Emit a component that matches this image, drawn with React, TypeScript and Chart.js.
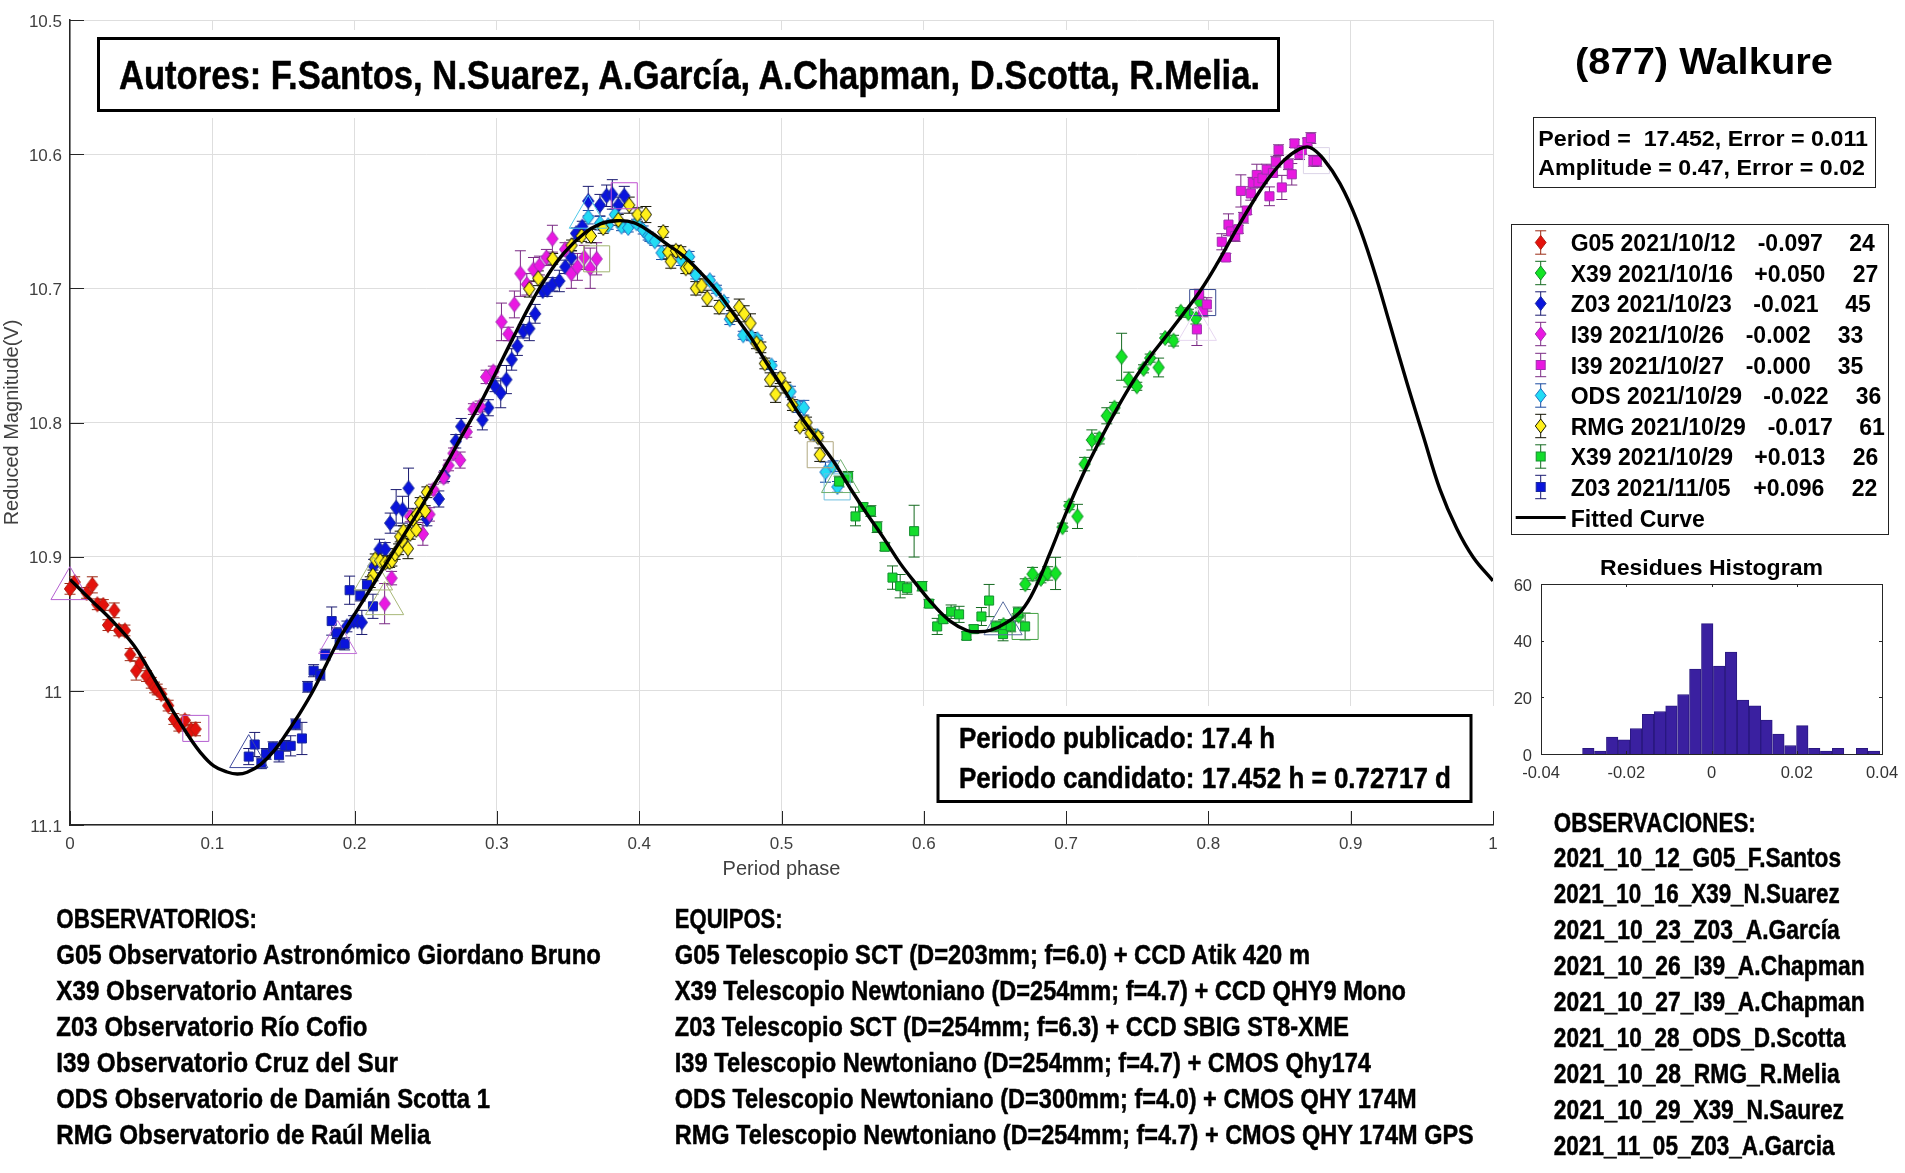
import React, { useEffect, useRef } from 'react';
import { Chart, registerables } from 'chart.js';

Chart.register(...registerables);

// [phase, reduced magnitude, half error bar]
const g05Oct12 = [
  [0, 10.924, 0.004], [0.0033, 10.919, 0.004], [0.0117, 10.927, 0.004], [0.0157, 10.921, 0.006],
  [0.0192, 10.9355, 0.004], [0.0234, 10.936, 0.004], [0.0267, 10.951, 0.004], [0.0311, 10.94, 0.0055],
  [0.0344, 10.955, 0.004], [0.0386, 10.955, 0.004], [0.0423, 10.973, 0.0045], [0.0465, 10.985, 0.007],
  [0.0496, 10.979, 0.004], [0.0538, 10.989, 0.004], [0.0571, 10.994, 0.004], [0.0594, 10.9975, 0.004],
  [0.0613, 10.999, 0.004], [0.0641, 11.0025, 0.004], [0.069, 11.011, 0.004], [0.073, 11.021, 0.004],
  [0.0765, 11.026, 0.004], [0.0807, 11.022, 0.004], [0.0851, 11.029, 0.004], [0.0882, 11.0285, 0.005],
];
const x39Oct16 = [
  [0.656, 10.951, 0.004], [0.6666, 10.944, 0.004], [0.6713, 10.9205, 0.004], [0.6764, 10.913, 0.005],
  [0.6823, 10.9165, 0.003], [0.687, 10.9125, 0.005], [0.6926, 10.9125, 0.012], [0.6975, 10.878, 0.003],
  [0.7022, 10.862, 0.003], [0.708, 10.87, 0.009], [0.713, 10.831, 0.005], [0.7181, 10.813, 0.0075],
  [0.7233, 10.812, 0.004], [0.7286, 10.795, 0.006], [0.734, 10.789, 0.004], [0.739, 10.751, 0.0175],
  [0.744, 10.768, 0.0055], [0.7497, 10.773, 0.003], [0.7544, 10.76, 0.003], [0.7591, 10.752, 0.003],
  [0.765, 10.759, 0.007], [0.7696, 10.737, 0.003], [0.7755, 10.739, 0.004], [0.7806, 10.7175, 0.003],
  [0.786, 10.7186, 0.003], [0.7912, 10.7226, 0.004], [0.7942, 10.7106, 0.004],
];
const z03Oct23 = [
  [0.1946, 10.952, 0.004], [0.1993, 10.948, 0.004], [0.2021, 10.948, 0.004], [0.2051, 10.949, 0.009],
  [0.2133, 10.907, 0.005], [0.2175, 10.8945, 0.0075], [0.2215, 10.8945, 0.005], [0.225, 10.875, 0.0075],
  [0.2292, 10.8635, 0.0135], [0.2337, 10.865, 0.01], [0.2379, 10.849, 0.015], [0.2508, 10.872, 0.005],
  [0.2592, 10.857, 0.006], [0.2632, 10.84, 0.004], [0.2711, 10.814, 0.005], [0.2749, 10.803, 0.006],
  [0.2898, 10.798, 0.0075], [0.294, 10.789, 0.006], [0.2987, 10.773, 0.004], [0.3027, 10.778, 0.011],
  [0.3067, 10.768, 0.0105], [0.3104, 10.753, 0.008], [0.3144, 10.743, 0.007], [0.3186, 10.732, 0.005],
  [0.3228, 10.73, 0.009], [0.3269, 10.719, 0.007], [0.3322, 10.702, 0.004], [0.3354, 10.701, 0.005],
  [0.3392, 10.697, 0.005], [0.3439, 10.6945, 0.008], [0.3481, 10.684, 0.005], [0.3523, 10.677, 0.005],
  [0.3556, 10.659, 0.004], [0.36, 10.654, 0.004], [0.3642, 10.635, 0.011], [0.3724, 10.638, 0.008],
  [0.3771, 10.631, 0.008], [0.3811, 10.63, 0.011], [0.3853, 10.638, 0.006], [0.3895, 10.631, 0.007],
];
const i39Oct26 = [
  [0.2211, 10.935, 0.015], [0.226, 10.916, 0.005], [0.2391, 10.87, 0.004], [0.248, 10.883, 0.0085],
  [0.2526, 10.8685, 0.005], [0.2554, 10.85, 0.004], [0.2625, 10.841, 0.004], [0.266, 10.832, 0.004],
  [0.2695, 10.823, 0.004], [0.2742, 10.828, 0.006], [0.2788, 10.807, 0.004], [0.2835, 10.79, 0.004],
  [0.2882, 10.788, 0.004], [0.2924, 10.766, 0.005], [0.2975, 10.762, 0.004], [0.3032, 10.725, 0.014],
  [0.3081, 10.734, 0.005], [0.3123, 10.712, 0.01], [0.3165, 10.689, 0.017], [0.321, 10.697, 0.008],
  [0.3257, 10.686, 0.009], [0.3299, 10.683, 0.007], [0.3348, 10.677, 0.006], [0.339, 10.663, 0.01],
  [0.3479, 10.671, 0.005], [0.3523, 10.689, 0.011], [0.3566, 10.684, 0.01], [0.3614, 10.677, 0.009],
  [0.3656, 10.685, 0.015], [0.3701, 10.678, 0.012],
];
const i39Oct27 = [
  [0.7919, 10.7306, 0.012], [0.7935, 10.7047, 0.004], [0.7961, 10.7172, 0.004], [0.7989, 10.712, 0.005],
  [0.8094, 10.6653, 0.006], [0.8123, 10.677, 0.003], [0.8141, 10.6525, 0.008], [0.816, 10.6576, 0.003],
  [0.8188, 10.661, 0.004], [0.8211, 10.656, 0.003], [0.8228, 10.6274, 0.012], [0.8247, 10.6474, 0.004],
  [0.827, 10.642, 0.003], [0.8298, 10.6293, 0.005], [0.8312, 10.6213, 0.004], [0.834, 10.6155, 0.008],
  [0.8352, 10.6208, 0.004], [0.838, 10.618, 0.004], [0.841, 10.6115, 0.004], [0.8429, 10.6314, 0.007],
  [0.8453, 10.614, 0.003], [0.8474, 10.6056, 0.004], [0.8493, 10.597, 0.004], [0.8516, 10.6248, 0.009],
  [0.8563, 10.6075, 0.004], [0.8586, 10.615, 0.008], [0.8605, 10.592, 0.003], [0.864, 10.6, 0.004],
  [0.8656, 10.597, 0.003], [0.8696, 10.591, 0.003], [0.872, 10.588, 0.004], [0.8738, 10.605, 0.004],
  [0.8762, 10.605, 0.004],
];
const odsOct29 = [
  [0.3642, 10.647, 0.005], [0.3724, 10.6515, 0.005], [0.3782, 10.653, 0.003], [0.3829, 10.645, 0.004],
  [0.3876, 10.654, 0.003], [0.3923, 10.655, 0.003], [0.3981, 10.6515, 0.003], [0.4028, 10.6565, 0.003],
  [0.4063, 10.661, 0.003], [0.4075, 10.662, 0.003], [0.411, 10.665, 0.003], [0.4157, 10.6735, 0.005],
  [0.4297, 10.679, 0.004], [0.4351, 10.6765, 0.004], [0.4398, 10.69, 0.003], [0.4496, 10.694, 0.003],
  [0.4543, 10.7007, 0.003], [0.4595, 10.71, 0.003], [0.4637, 10.723, 0.004], [0.4731, 10.735, 0.003],
  [0.4789, 10.736, 0.003], [0.4831, 10.738, 0.003], [0.493, 10.7575, 0.003], [0.5063, 10.777, 0.004],
  [0.5117, 10.7885, 0.004], [0.5157, 10.789, 0.0055], [0.5251, 10.81, 0.003], [0.5309, 10.837, 0.0075],
  [0.5363, 10.8326, 0.004], [0.5393, 10.848, 0.004],
];
const rmgOct29 = [
  [0.2129, 10.914, 0.004], [0.211, 10.919, 0.004], [0.2145, 10.902, 0.004], [0.218, 10.903, 0.004],
  [0.2215, 10.9045, 0.004], [0.2246, 10.904, 0.004], [0.2262, 10.903, 0.004], [0.2285, 10.898, 0.004],
  [0.2309, 10.8945, 0.004], [0.2332, 10.888, 0.004], [0.232, 10.885, 0.004], [0.2344, 10.881, 0.004],
  [0.2391, 10.883, 0.004], [0.2433, 10.88, 0.004], [0.2375, 10.894, 0.0075], [0.241, 10.872, 0.004],
  [0.2438, 10.8685, 0.004], [0.2461, 10.86, 0.004], [0.2496, 10.866, 0.004], [0.2508, 10.852, 0.004],
  [0.3228, 10.7005, 0.006], [0.3291, 10.6925, 0.0055], [0.3392, 10.678, 0.004], [0.3525, 10.668, 0.004],
  [0.3595, 10.661, 0.004], [0.3661, 10.661, 0.005], [0.3747, 10.655, 0.004], [0.3853, 10.649, 0.004],
  [0.393, 10.638, 0.006], [0.3988, 10.645, 0.005], [0.4047, 10.645, 0.006], [0.4169, 10.658, 0.004],
  [0.4204, 10.673, 0.005], [0.4222, 10.68, 0.005], [0.4258, 10.672, 0.004], [0.4293, 10.673, 0.004],
  [0.4328, 10.685, 0.004], [0.4351, 10.684, 0.004], [0.4398, 10.7, 0.005], [0.4438, 10.698, 0.005],
  [0.4478, 10.7074, 0.006], [0.4562, 10.714, 0.005], [0.4649, 10.7206, 0.004], [0.4703, 10.714, 0.006],
  [0.4738, 10.719, 0.006], [0.4782, 10.726, 0.007], [0.4824, 10.741, 0.004], [0.4855, 10.744, 0.004],
  [0.4883, 10.756, 0.004], [0.492, 10.768, 0.005], [0.4958, 10.779, 0.006], [0.4991, 10.767, 0.004],
  [0.503, 10.774, 0.004], [0.5077, 10.787, 0.004], [0.5129, 10.803, 0.003], [0.5176, 10.8, 0.004],
  [0.5204, 10.808, 0.003], [0.5258, 10.811, 0.003], [0.5269, 10.824, 0.005],
];
const x39Oct29 = [
  [0.5405, 10.844, 0.004], [0.5468, 10.8405, 0.004], [0.552, 10.87, 0.007], [0.5574, 10.863, 0.003],
  [0.5628, 10.866, 0.004], [0.5672, 10.878, 0.004], [0.5726, 10.8926, 0.003], [0.578, 10.9156, 0.0087],
  [0.5834, 10.922, 0.0087], [0.5883, 10.9235, 0.0045], [0.5932, 10.881, 0.0193], [0.5988, 10.922, 0.0035],
  [0.6037, 10.935, 0.003], [0.6094, 10.952, 0.006], [0.6136, 10.9466, 0.003], [0.6192, 10.941, 0.005],
  [0.6248, 10.943, 0.006], [0.63, 10.959, 0.003], [0.6351, 10.954, 0.003], [0.6405, 10.9446, 0.0067],
  [0.6459, 10.9327, 0.012], [0.6506, 10.952, 0.004], [0.6557, 10.9577, 0.005], [0.6611, 10.952, 0.004],
  [0.6663, 10.9416, 0.004], [0.6712, 10.952, 0.01],
];
const z03Nov05 = [
  [0.1256, 11.049, 0.006], [0.1298, 11.04, 0.009], [0.1345, 11.054, 0.004], [0.1378, 11.047, 0.004],
  [0.1427, 11.042, 0.004], [0.1469, 11.048, 0.005], [0.1509, 11.041, 0.004], [0.1551, 11.041, 0.0075],
  [0.1586, 11.025, 0.004], [0.163, 11.0355, 0.012], [0.167, 10.997, 0.004], [0.1712, 10.985, 0.0045],
  [0.1759, 10.988, 0.004], [0.1794, 10.973, 0.004], [0.1839, 10.948, 0.0105], [0.1876, 10.957, 0.004],
  [0.1895, 10.965, 0.004], [0.193, 10.965, 0.0045], [0.1965, 10.925, 0.0105], [0.204, 10.929, 0.004],
  [0.2087, 10.921, 0.004], [0.2129, 10.937, 0.009],
];

const curvePhase = [
  0, 0.0144, 0.0308, 0.0448, 0.0542, 0.0636, 0.0729, 0.0823, 0.0917, 0.101, 0.1104, 0.1175, 0.1245, 0.1338,
  0.1432, 0.1526, 0.1619, 0.1713, 0.1807, 0.19, 0.1994, 0.2088, 0.2181, 0.2275, 0.2369, 0.2462, 0.2556, 0.265,
  0.2743, 0.2907, 0.3001, 0.3118, 0.3235, 0.3328, 0.3469, 0.3609, 0.3727, 0.3844, 0.3961, 0.4078, 0.4195, 0.4312,
  0.4429, 0.4546, 0.4663, 0.478, 0.4898, 0.5014, 0.5132, 0.5249, 0.5366, 0.5483, 0.56, 0.5717, 0.5834, 0.5951,
  0.6068, 0.6185, 0.6303, 0.6373, 0.6466, 0.6584, 0.6688, 0.6771, 0.6888, 0.7005, 0.7122, 0.7239, 0.7356, 0.7473,
  0.759, 0.7708, 0.7824, 0.7942, 0.8059, 0.8176, 0.8293, 0.841, 0.8527, 0.8644, 0.8715, 0.8808, 0.8925, 0.9042,
  0.9159, 0.9276, 0.9394, 0.951, 0.9628, 0.9745, 0.9862, 1,
];
const curveMag = [
  10.917, 10.932, 10.949, 10.966, 10.982, 10.999, 11.016, 11.032, 11.046, 11.056, 11.0605, 11.062, 11.0607, 11.055,
  11.045, 11.031, 11.016, 10.999, 10.979, 10.96, 10.944, 10.928, 10.912, 10.896, 10.88, 10.864, 10.847, 10.83,
  10.812, 10.781, 10.761, 10.736, 10.712, 10.695, 10.674, 10.6595, 10.652, 10.6496, 10.651, 10.658, 10.667, 10.676,
  10.688, 10.702, 10.719, 10.736, 10.756, 10.775, 10.795, 10.812, 10.829, 10.849, 10.868, 10.886, 10.905, 10.921,
  10.936, 10.948, 10.955, 10.956, 10.955, 10.949, 10.94, 10.926, 10.897, 10.866, 10.838, 10.813, 10.79, 10.769,
  10.751, 10.735, 10.719, 10.702, 10.682, 10.66, 10.639, 10.62, 10.605, 10.596, 10.595, 10.6035, 10.622, 10.649,
  10.685, 10.727, 10.77, 10.81, 10.85, 10.879, 10.9006, 10.918,
];

// Large open marks at the start and end of each night
const startMarks = [
  [0, 10.9238], [0.1256, 11.049], [0.1881, 10.964], [0.2133, 10.9166], [0.2211, 10.935],
  [0.3642, 10.647], [0.5415, 10.844], [0.6557, 10.95], [0.7923, 10.7306],
];
const endMarks = [
  [0.0884, 11.028], [0.3701, 10.678], [0.3895, 10.631], [0.5272, 10.824],
  [0.5391, 10.848], [0.6712, 10.952], [0.796, 10.7106], [0.8759, 10.6048],
];
const startMarkColors = ['#b45fd0', '#3f4a9c', '#c070d8', '#a8b878', '#a8b878', '#50c8e8', '#70b070', '#5a6ea0', '#e6d6f0'];
const endMarkColors = ['#b45fd0', '#a0b470', '#c050d0', '#b0a880', '#70c0e0', '#40a040', '#384a90', '#dcd4e8'];

const yTicks = [10.5, 10.6, 10.7, 10.8, 10.9, 11, 11.1];
const xTickLabels = ['0', '0.1', '0.2', '0.3', '0.4', '0.5', '0.6', '0.7', '0.8', '0.9', '1'];

const histCenters = [
  -0.0289, -0.0261, -0.0233, -0.0205, -0.0177, -0.0149, -0.0121, -0.0094, -0.0066, -0.0038, -0.001, 0.0018, 0.0046,
  0.0074, 0.0102, 0.0129, 0.0157, 0.0185, 0.0213, 0.0241, 0.0269, 0.0297, 0.0325, 0.0353, 0.0381,
];
const histCounts = [2, 1, 6, 5, 9, 14, 15, 17, 21, 30, 46, 31, 36, 19, 17, 12, 7, 3, 10, 2, 1, 2, 0, 2, 1];

const seriesNames = [
  'G05 2021/10/12', 'X39 2021/10/16', 'Z03 2021/10/23', 'I39 2021/10/26', 'I39 2021/10/27',
  'ODS 2021/10/29', 'RMG 2021/10/29', 'X39 2021/10/29', 'Z03 2021/11/05',
];
const seriesOffsets = ['-0.097', '+0.050', '-0.021', '-0.002', '-0.000', '-0.022', '-0.017', '+0.013', '+0.096'];
const seriesCounts = ['24', '27', '45', '33', '35', '36', '61', '26', '22'];

const observatorios = [
  'G05 Observatorio Astronómico Giordano Bruno',
  'X39 Observatorio Antares',
  'Z03 Observatorio Río Cofio',
  'I39 Observatorio Cruz del Sur',
  'ODS Observatorio de Damián Scotta 1',
  'RMG Observatorio de Raúl Melia',
];
const equipos = [
  'G05 Telescopio SCT (D=203mm; f=6.0) + CCD Atik 420 m',
  'X39 Telescopio Newtoniano (D=254mm; f=4.7) + CCD QHY9 Mono',
  'Z03 Telescopio SCT (D=254mm; f=6.3) + CCD SBIG ST8-XME',
  'I39 Telescopio Newtoniano (D=254mm; f=4.7) + CMOS Qhy174',
  'ODS Telescopio Newtoniano (D=300mm; f=4.0) + CMOS QHY 174M',
  'RMG Telescopio Newtoniano (D=254mm; f=4.7) + CMOS QHY 174M GPS',
];
const observaciones = [
  '2021_10_12_G05_F.Santos',
  '2021_10_16_X39_N.Suarez',
  '2021_10_23_Z03_A.García',
  '2021_10_26_I39_A.Chapman',
  '2021_10_27_I39_A.Chapman',
  '2021_10_28_ODS_D.Scotta',
  '2021_10_28_RMG_R.Melia',
  '2021_10_29_X39_N.Saurez',
  '2021_11_05_Z03_A.Garcia',
];

// layout / style tables, same order as the lists above
const seriesData = [g05Oct12, x39Oct16, z03Oct23, i39Oct26, i39Oct27, odsOct29, rmgOct29, x39Oct29, z03Nov05];
const seriesStyle = [
  { shape: 'diamond', fill: '#e4120c', edge: '#b01c10', bar: '#9a2a14' },
  { shape: 'diamond', fill: '#12e424', edge: '#128a28', bar: '#156a20' },
  { shape: 'diamond', fill: '#0a14dc', edge: '#1a2a9c', bar: '#1a1a70' },
  { shape: 'diamond', fill: '#ea18e2', edge: '#a030b0', bar: '#7a2a84' },
  { shape: 'square', fill: '#e818e0', edge: '#a030b0', bar: '#7a2a84' },
  { shape: 'diamond', fill: '#22dcf4', edge: '#1e70c4', bar: '#1a4aa0' },
  { shape: 'diamond', fill: '#fff01a', edge: '#1a1a00', bar: '#101000' },
  { shape: 'square', fill: '#14dc2c', edge: '#149030', bar: '#156a20' },
  { shape: 'square', fill: '#0a14dc', edge: '#1a2a9c', bar: '#1a1a70' },
];
const legendRowY = [242.5, 273, 303.5, 334, 365, 395.5, 426, 456.5, 487];
const legendOffsetX = [1757.7, 1754.3, 1753.3, 1745.7, 1745.7, 1763.3, 1767.7, 1754.3, 1753.3];
const legendCountX = [1849.3, 1852.7, 1845.3, 1837.7, 1837.7, 1855.7, 1859.3, 1852.7, 1851.7];
const obsRight = [601, 352.7, 367.4, 398, 490, 430.5];
const equipRight = [1310, 1406, 1349, 1371, 1416.7, 1473.7];
const observRight = [1841, 1839.7, 1839.7, 1864.7, 1864.7, 1845.5, 1839.7, 1844, 1834.6];

const NARROW = '"Liberation Sans Narrow", "Liberation Sans", sans-serif';
const SANS = '"Liberation Sans", Arial, sans-serif';

function diamondImage(fill: string, edge: string) {
  const c = document.createElement('canvas');
  c.width = 14;
  c.height = 18;
  const g = c.getContext('2d')!;
  g.beginPath();
  g.moveTo(7, 1.5);
  g.lineTo(12.6, 9);
  g.lineTo(7, 16.5);
  g.lineTo(1.4, 9);
  g.closePath();
  g.fillStyle = fill;
  g.fill();
  g.strokeStyle = edge;
  g.lineWidth = 1;
  g.stroke();
  return c;
}

const errorBars = {
  id: 'errorBars',
  beforeDatasetsDraw(chart: any) {
    const { x, y } = chart.scales;
    const ctx = chart.ctx;
    ctx.save();
    ctx.lineWidth = 1;
    chart.data.datasets.forEach((ds: any) => {
      if (!ds.errs) return;
      ctx.strokeStyle = ds.barColor;
      ds.data.forEach((p: any, i: number) => {
        const px = x.getPixelForValue(p.x);
        const top = y.getPixelForValue(p.y - ds.errs[i]);
        const bottom = y.getPixelForValue(p.y + ds.errs[i]);
        ctx.beginPath();
        ctx.moveTo(px, top);
        ctx.lineTo(px, bottom);
        ctx.moveTo(px - 5.5, top);
        ctx.lineTo(px + 5.5, top);
        ctx.moveTo(px - 5.5, bottom);
        ctx.lineTo(px + 5.5, bottom);
        ctx.stroke();
      });
    });
    ctx.restore();
  },
};

// MATLAB style ticks pointing into the axes
const innerTicks = {
  id: 'innerTicks',
  afterDatasetsDraw(chart: any, _args: any, opts: any) {
    const { x, y } = chart.scales;
    const { left, right, top, bottom } = chart.chartArea;
    const ctx = chart.ctx;
    ctx.save();
    ctx.strokeStyle = '#262626';
    ctx.lineWidth = 1;
    ctx.beginPath();
    x.ticks.forEach((t: any) => {
      const px = Math.round(x.getPixelForValue(t.value)) + 0.5;
      ctx.moveTo(px, bottom);
      ctx.lineTo(px, bottom - opts.len);
      if (opts.box) {
        ctx.moveTo(px, top);
        ctx.lineTo(px, top + opts.len);
      }
    });
    y.ticks.forEach((t: any) => {
      const py = Math.round(y.getPixelForValue(t.value)) + 0.5;
      ctx.moveTo(left, py);
      ctx.lineTo(left + opts.len, py);
      if (opts.box) {
        ctx.moveTo(right, py);
        ctx.lineTo(right - opts.len, py);
      }
    });
    ctx.stroke();
    if (opts.box) ctx.strokeRect(left + 0.5, top + 0.5, right - left, bottom - top);
    ctx.restore();
  },
};

function PhaseChart() {
  const ref = useRef<HTMLCanvasElement>(null);
  useEffect(() => {
    const datasets: any[] = [
      {
        label: 'Fitted Curve',
        data: curvePhase.map((p, i) => ({ x: p, y: curveMag[i] })),
        showLine: true,
        tension: 0.4,
        borderColor: '#000',
        borderWidth: 3.4,
        pointRadius: 0,
        order: 0,
      },
    ];
    seriesData.forEach((rows, i) => {
      const st = seriesStyle[i];
      const isDiamond = st.shape === 'diamond';
      datasets.push({
        label: seriesNames[i],
        data: rows.map((r) => ({ x: r[0], y: r[1] })),
        errs: rows.map((r) => r[2]),
        barColor: st.bar,
        pointStyle: isDiamond ? diamondImage(st.fill, st.edge) : 'rect',
        pointRadius: 6.4,
        pointBackgroundColor: st.fill,
        pointBorderColor: st.edge,
        pointBorderWidth: 1,
        clip: false,
        order: 20 - i,
      });
    });
    datasets.push(
      {
        label: 'start',
        data: startMarks.map((m) => ({ x: m[0], y: m[1] })),
        pointStyle: 'triangle',
        pointRadius: 22,
        pointBackgroundColor: 'rgba(0,0,0,0)',
        pointBorderColor: startMarkColors,
        pointBorderWidth: 1,
        clip: false,
        order: 1,
      },
      {
        label: 'end',
        data: endMarks.map((m) => ({ x: m[0], y: m[1] })),
        pointStyle: 'rect',
        pointRadius: 18.4,
        pointBackgroundColor: 'rgba(0,0,0,0)',
        pointBorderColor: endMarkColors,
        pointBorderWidth: 1,
        clip: false,
        order: 1,
      }
    );

    const tickFont = { family: SANS, size: 17 };
    const titleFont = { family: SANS, size: 20, lineHeight: 1.2 };
    const chart = new Chart(ref.current!, {
      type: 'scatter',
      data: { datasets },
      plugins: [errorBars, innerTicks],
      options: {
        animation: false,
        responsive: false,
        devicePixelRatio: 1,
        layout: { autoPadding: false, padding: { left: 0, top: 20, right: 412, bottom: 292 } },
        plugins: { legend: { display: false }, tooltip: { enabled: false }, innerTicks: { len: 14, box: false } } as any,
        scales: {
          x: {
            type: 'linear',
            min: 0,
            max: 1,
            afterFit: (s: any) => {
              s.height = 56;
            },
            afterBuildTicks: (s: any) => {
              s.ticks = xTickLabels.map((l) => ({ value: Number(l) }));
            },
            title: { display: true, text: 'Period phase', color: '#404040', font: titleFont, padding: 0 },
            ticks: {
              color: '#404040',
              font: tickFont,
              padding: 9,
              maxRotation: 0,
              autoSkip: false,
              callback: (v: any) => String(v),
            },
            grid: { color: '#dedede', drawTicks: false },
            border: { color: '#262626', width: 1.5 },
          },
          y: {
            type: 'linear',
            reverse: true,
            min: 10.5,
            max: 11.1,
            afterFit: (s: any) => {
              s.width = 70;
            },
            afterBuildTicks: (s: any) => {
              s.ticks = yTicks.map((v) => ({ value: v }));
            },
            title: { display: true, text: 'Reduced Magnitude(V)', color: '#404040', font: titleFont, padding: 0 },
            ticks: {
              color: '#404040',
              font: tickFont,
              padding: 8,
              labelOffset: 2,
              autoSkip: false,
              callback: (v: any) => String(v),
            },
            grid: { color: '#dedede', drawTicks: false },
            border: { color: '#262626', width: 1.5 },
          },
        },
      },
    });
    return () => chart.destroy();
  }, []);
  return <canvas ref={ref} width={1905} height={1173} style={{ position: 'absolute', left: 0, top: 0 }} />;
}

function HistChart() {
  const ref = useRef<HTMLCanvasElement>(null);
  useEffect(() => {
    const tickFont = { family: SANS, size: 16.5 };
    const chart = new Chart(ref.current!, {
      type: 'bar',
      data: {
        datasets: [
          {
            data: histCenters.map((c, i) => ({ x: c, y: histCounts[i] })),
            backgroundColor: '#3a20a0',
            borderColor: '#2a1880',
            borderWidth: 1,
            barPercentage: 1,
            categoryPercentage: 1,
          } as any,
        ],
      },
      plugins: [innerTicks],
      options: {
        animation: false,
        responsive: false,
        devicePixelRatio: 1,
        // bigger than the plot on purpose: the scales want room for half of the end labels plus their padding
        layout: { autoPadding: false, padding: { left: 0, top: 34, right: 48, bottom: 0 } },
        plugins: { legend: { display: false }, tooltip: { enabled: false }, innerTicks: { len: 3, box: true } } as any,
        scales: {
          x: {
            type: 'linear',
            offset: false,
            min: -0.04,
            max: 0.04,
            afterFit: (s: any) => {
              s.height = 36;
            },
            ticks: {
              stepSize: 0.02,
              color: '#333',
              font: tickFont,
              padding: 10,
              maxRotation: 0,
              callback: (v: any) => (Math.abs(v) < 1e-9 ? '0' : Number(v).toFixed(2)),
            },
            grid: { display: false, drawTicks: false },
            border: { display: false },
          },
          y: {
            type: 'linear',
            min: 0,
            max: 60,
            afterFit: (s: any) => {
              s.width = 51;
            },
            ticks: { stepSize: 20, color: '#333', font: tickFont, padding: 9, labelOffset: 2 },
            grid: { display: false, drawTicks: false },
            border: { display: false },
          },
        },
      },
    });
    return () => chart.destroy();
  }, []);
  return <canvas ref={ref} width={440} height={240} style={{ position: 'absolute', left: 1490, top: 550 }} />;
}

function Narrow({ x, y, right, size, children }: any) {
  return (
    <text
      x={x}
      y={y}
      textLength={right - x}
      lengthAdjust="spacingAndGlyphs"
      fontFamily={NARROW}
      fontWeight="bold"
      fontSize={size}
      fill="#000"
      stroke="#000"
      strokeWidth={0.5}
    >
      {children}
    </text>
  );
}

function Sans({ x, y, size, right, color = '#000', children }: any) {
  const fit = right ? { textLength: right - x, lengthAdjust: 'spacingAndGlyphs' } : {};
  return (
    <text x={x} y={y} {...fit} fontFamily={SANS} fontWeight="bold" fontSize={size} fill={color} xmlSpace="preserve">
      {children}
    </text>
  );
}

function LegendMark({ y, st }: any) {
  const cx = 1540.7;
  return (
    <g>
      <path
        d={`M${cx} ${y - 11.7}V${y + 11.7}M${cx - 5.5} ${y - 11.7}H${cx + 5.5}M${cx - 5.5} ${y + 11.7}H${cx + 5.5}`}
        stroke={st.bar}
        fill="none"
      />
      {st.shape === 'diamond' ? (
        <path d={`M${cx} ${y - 7}L${cx + 5.4} ${y}L${cx} ${y + 7}L${cx - 5.4} ${y}Z`} fill={st.fill} stroke={st.edge} />
      ) : (
        <rect x={cx - 4.5} y={y - 4.5} width={9} height={9} fill={st.fill} stroke={st.edge} />
      )}
    </g>
  );
}

function Overlay() {
  return (
    <svg width={1905} height={1173} style={{ position: 'absolute', left: 0, top: 0 }}>
      {/* white patches behind the pasted boxes */}
      <rect x={90} y={30} width={1200} height={88} fill="#fff" />
      <rect x={920} y={706} width={575} height={105} fill="#fff" />

      <rect x={98.5} y={38.5} width={1180} height={72} fill="#fff" stroke="#000" strokeWidth={3} />
      <Narrow x={119} y={88.5} right={1260} size={41}>
        Autores: F.Santos, N.Suarez, A.García, A.Chapman, D.Scotta, R.Melia.
      </Narrow>

      <rect x={938} y={715.5} width={533} height={86} fill="#fff" stroke="#000" strokeWidth={3} />
      <Narrow x={959} y={748} right={1275} size={30}>
        Periodo publicado: 17.4 h
      </Narrow>
      <Narrow x={959} y={788} right={1451} size={30}>
        Periodo candidato: 17.452 h = 0.72717 d
      </Narrow>

      <Sans x={1575} y={74} size={37} right={1833}>
        (877) Walkure
      </Sans>
      <rect x={1533.5} y={117.5} width={342} height={70} fill="#fff" stroke="#222" />
      <Sans x={1538.3} y={145.6} size={22} right={1868}>
        {'Period =  17.452, Error = 0.011'}
      </Sans>
      <Sans x={1538.3} y={175.4} size={22} right={1865}>
        Amplitude = 0.47, Error = 0.02
      </Sans>

      <rect x={1511.5} y={224.5} width={377} height={310} fill="#fff" stroke="#222" />
      {seriesNames.map((name, i) => (
        <g key={name + i}>
          <LegendMark y={legendRowY[i]} st={seriesStyle[i]} />
          <Sans x={1570.7} y={legendRowY[i] + 8.5} size={23}>
            {name}
          </Sans>
          <Sans x={legendOffsetX[i]} y={legendRowY[i] + 8.5} size={23}>
            {seriesOffsets[i]}
          </Sans>
          <Sans x={legendCountX[i]} y={legendRowY[i] + 8.5} size={23}>
            {seriesCounts[i]}
          </Sans>
        </g>
      ))}
      <line x1={1515.7} x2={1565.7} y1={517.5} y2={517.5} stroke="#000" strokeWidth={3} />
      <Sans x={1570.7} y={526.5} size={23}>
        Fitted Curve
      </Sans>

      <Sans x={1600} y={575} size={22.5} right={1823}>
        Residues Histogram
      </Sans>

      <Narrow x={56.3} y={928} right={257} size={28}>
        OBSERVATORIOS:
      </Narrow>
      {observatorios.map((t, i) => (
        <Narrow key={t} x={56.3} y={964 + i * 36} right={obsRight[i]} size={28}>
          {t}
        </Narrow>
      ))}
      <Narrow x={674.8} y={928} right={782.6} size={28}>
        EQUIPOS:
      </Narrow>
      {equipos.map((t, i) => (
        <Narrow key={t} x={674.8} y={964 + i * 36} right={equipRight[i]} size={28}>
          {t}
        </Narrow>
      ))}
      <Narrow x={1553.8} y={831.7} right={1755.8} size={28}>
        OBSERVACIONES:
      </Narrow>
      {observaciones.map((t, i) => (
        <Narrow key={t} x={1553.8} y={867.3 + i * 36} right={observRight[i]} size={28}>
          {t}
        </Narrow>
      ))}
    </svg>
  );
}

export default function App() {
  return (
    <div
      style={{ position: 'absolute', left: 0, top: 0, width: 1905, height: 1173, background: '#fff', overflow: 'hidden' }}
    >
      <PhaseChart />
      <Overlay />
      <HistChart />
    </div>
  );
}
